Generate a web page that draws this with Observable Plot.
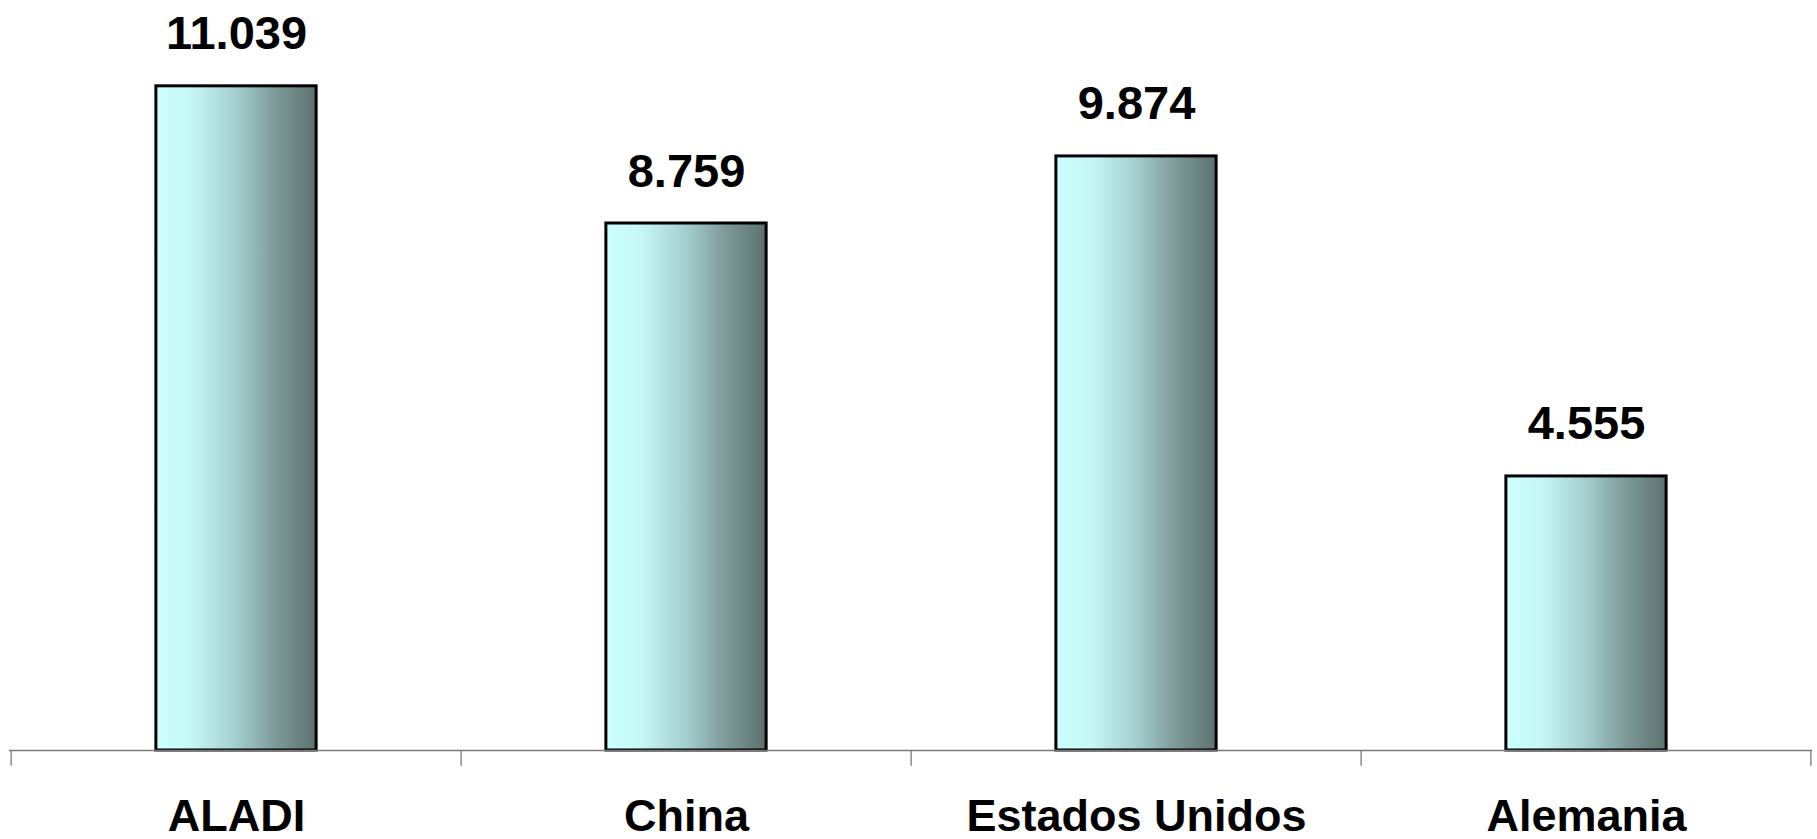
<!DOCTYPE html>
<html>
<head>
<meta charset="utf-8">
<script src="https://cdn.jsdelivr.net/npm/d3@7"></script>
<script src="https://cdn.jsdelivr.net/npm/@observablehq/plot@0.6"></script>
<style>
  html, body { margin: 0; padding: 0; background: #ffffff; }
  svg { display: block; }
</style>
</head>
<body>
<div id="chart"></div>
<script>
const categories = ["ALADI", "China", "Estados Unidos", "Alemania"];
const values = [11.039, 8.759, 9.874, 4.555];
const valueLabels = ["11.039", "8.759", "9.874", "4.555"];

const data = categories.map((c, i) => ({category: c, value: values[i], label: valueLabels[i]}));

const W = 1817, H = 839;
const mL = 9, mR = 5;
const step = (W - mL - mR) / categories.length;
const barW = 161;
const inset = (step - barW) / 2;

const lastCategory = [categories[categories.length - 1]];

const plot = Plot.plot({
  width: W,
  height: H,
  marginLeft: mL,
  marginRight: mR,
  marginTop: 28,
  marginBottom: 89,
  style: {background: "#ffffff", overflow: "visible", fontFamily: "'Liberation Sans', Arial, sans-serif"},
  x: {type: "band", domain: categories, padding: 0, axis: null},
  y: {domain: [0, 12], axis: null},
  marks: [
    Plot.barY(data, {x: "category", y: "value", fill: "url(#barGrad)", stroke: "#000000", strokeWidth: 3, insetLeft: inset, insetRight: inset}),
    Plot.ruleY([0], {stroke: "#7a7a7a", strokeWidth: 1.3}),
    // category boundary ticks (left edge of each band, right edge of the last)
    Plot.ruleX(categories, {x: d => d, y1: 0, y2: -0.26, dx: -step / 2, stroke: "#7a7a7a", strokeWidth: 1.3}),
    Plot.ruleX(lastCategory, {x: d => d, y1: 0, y2: -0.26, dx: step / 2 - 1, stroke: "#7a7a7a", strokeWidth: 1.3}),
    Plot.text(data, {x: "category", y: "value", text: "label", dy: -37, lineAnchor: "bottom", fontSize: 47, fontWeight: "bold", fill: "#000000"}),
    Plot.text(data, {x: "category", y: () => 0, text: "category", dy: 80, lineAnchor: "bottom", fontSize: 45, fontWeight: "bold", fill: "#000000"})
  ]
});

// gradient definition for the bars
const ns = "http://www.w3.org/2000/svg";
const defs = document.createElementNS(ns, "defs");
const grad = document.createElementNS(ns, "linearGradient");
grad.setAttribute("id", "barGrad");
grad.setAttribute("x1", "0"); grad.setAttribute("y1", "0");
grad.setAttribute("x2", "1"); grad.setAttribute("y2", "0");
[["0%", "#CCFFFF"], ["22%", "#C6F7F7"], ["50%", "#A4CFCE"], ["75%", "#7C9A98"], ["100%", "#5C716F"]].forEach(([o, c]) => {
  const s = document.createElementNS(ns, "stop");
  s.setAttribute("offset", o);
  s.setAttribute("stop-color", c);
  grad.appendChild(s);
});
defs.appendChild(grad);
plot.insertBefore(defs, plot.firstChild);

document.getElementById("chart").appendChild(plot);
</script>
</body>
</html>
